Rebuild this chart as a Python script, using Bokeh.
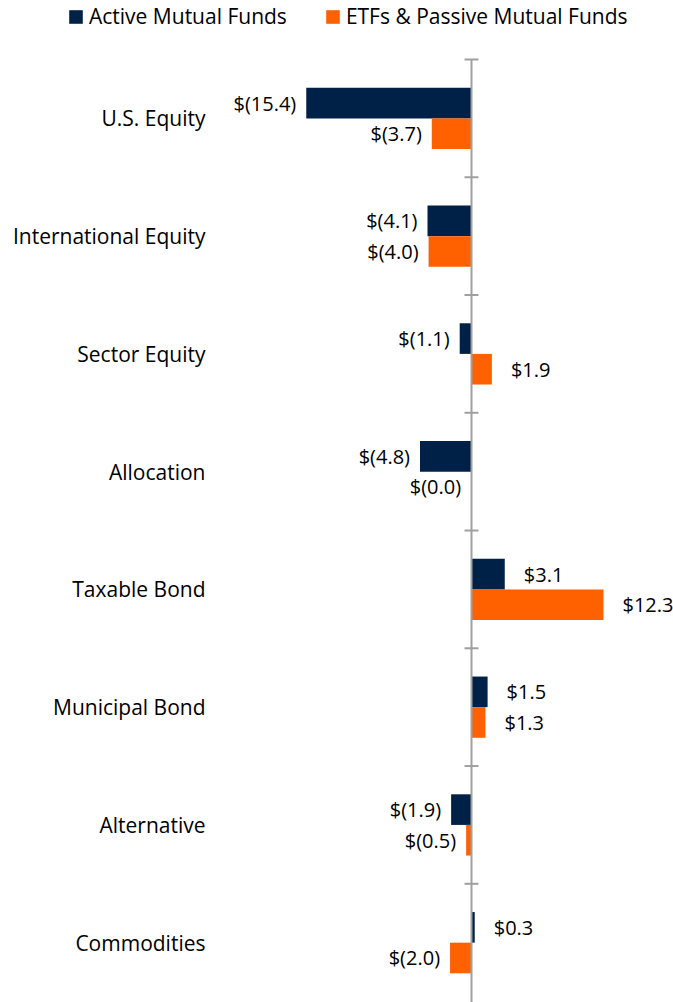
from bokeh.plotting import figure
from bokeh.models import Range1d, Legend, LegendItem, ColumnDataSource
from bokeh.core.properties import value
from bokeh.embed import file_html
from bokeh.resources import INLINE

categories = ["U.S. Equity", "International Equity", "Sector Equity", "Allocation",
              "Taxable Bond", "Municipal Bond", "Alternative", "Commodities"]
active = [-15.4, -4.1, -1.1, -4.8, 3.1, 1.5, -1.9, 0.3]
passive = [-3.7, -4.0, 1.9, -0.04, 12.3, 1.3, -0.5, -2.0]
series_names = ["Active Mutual Funds", "ETFs & Passive Mutual Funds"]
colors = ["#002147", "#FF6000"]

FONT = "Open Sans"
BAR_H = 0.26
W, H = 673, 1002
ZERO_PX = 471.0      # pixel column of the zero line
PX_PER_UNIT = 10.73  # horizontal scale
LABEL_PX = 205.0     # right edge of category labels

def fmt(v):
    return "$(%.1f)" % abs(v) if v < 0 else "$%.1f" % v

n = len(categories)
p = figure(width=W, height=H, output_backend="svg", toolbar_location=None,
           x_range=Range1d(-ZERO_PX / PX_PER_UNIT, (W - ZERO_PX) / PX_PER_UNIT),
           y_range=Range1d(7.508, -1.001),
           min_border_left=0, min_border_right=0, min_border_top=0, min_border_bottom=0)
p.outline_line_color = None
p.grid.visible = False
p.axis.visible = False
p.background_fill_color = "white"

# category labels
p.text(x=[(LABEL_PX - ZERO_PX) / PX_PER_UNIT] * n, y=list(range(n)), text=categories,
       text_align="right", text_baseline="middle",
       text_font=value(FONT), text_font_size="21px", text_color="#000000")

renderers = []
for k, (vals, col) in enumerate(zip([active, passive], colors)):
    off = -BAR_H / 2 if k == 0 else BAR_H / 2
    ys = [i + off for i in range(n)]
    src = ColumnDataSource(dict(y=ys, right=vals, left=[0] * len(vals)))
    r = p.hbar(y="y", left="left", right="right", height=BAR_H, source=src,
               fill_color=col, line_color=None)
    renderers.append(r)
    pos = [(v, y) for v, y in zip(vals, ys) if v >= 0]
    neg = [(v, y) for v, y in zip(vals, ys) if v < 0]
    if pos:
        p.text(x=[v for v, _ in pos], y=[y for _, y in pos], text=[fmt(v) for v, _ in pos],
               x_offset=19, text_align="left", text_baseline="middle",
               text_font=value(FONT), text_font_size="20px", text_color="#000000")
    if neg:
        p.text(x=[v for v, _ in neg], y=[y for _, y in neg], text=[fmt(v) for v, _ in neg],
               x_offset=-10, text_align="right", text_baseline="middle",
               text_font=value(FONT), text_font_size="20px", text_color="#000000")

# zero axis with category boundary ticks
p.segment(x0=[0], y0=[-0.5], x1=[0], y1=[n - 0.5 + 0.01], line_color="#A0A0A0", line_width=2)
bounds = [k - 0.5 for k in range(n)]
p.segment(x0=[-0.65] * n, y0=bounds, x1=[0.65] * n, y1=bounds, line_color="#A0A0A0", line_width=2)

legend = Legend(items=[LegendItem(label=series_names[i], renderers=[renderers[i]]) for i in range(2)],
                orientation="horizontal", location=(67, 972))
legend.glyph_width = 17
legend.glyph_height = 17
legend.label_standoff = 5
legend.spacing = 37
legend.padding = 0
legend.margin = 0
legend.border_line_color = None
legend.background_fill_alpha = 0
legend.label_text_font = FONT
legend.label_text_font_size = "21px"
legend.label_text_color = "#000000"
p.add_layout(legend, "center")

open("out.html", "w").write(file_html(p, INLINE))
